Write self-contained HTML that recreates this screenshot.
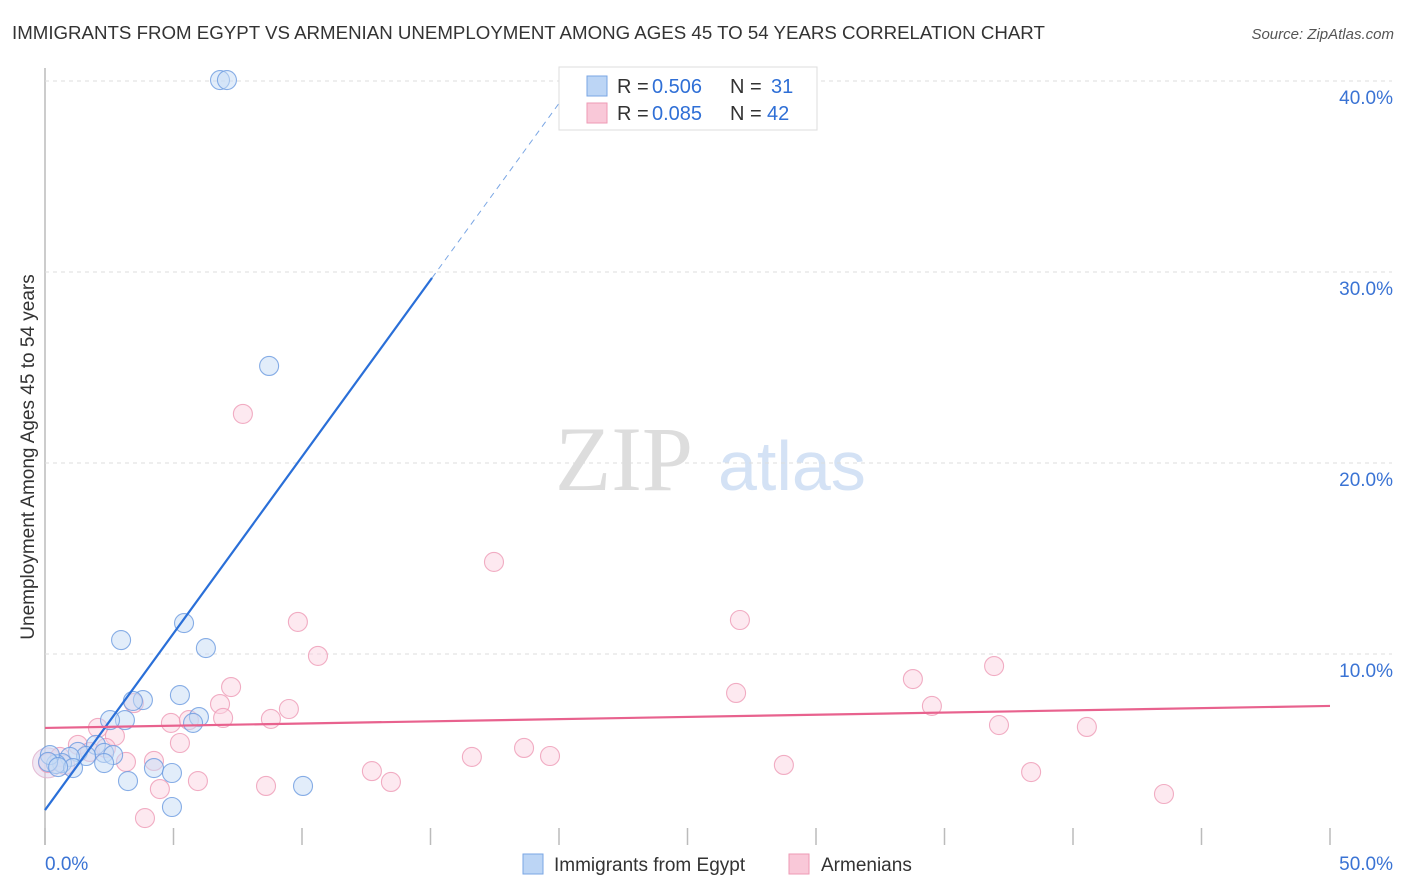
<!DOCTYPE html>
<html><head><meta charset="utf-8"><style>
body{margin:0;background:#fff;font-family:"Liberation Sans",sans-serif}
svg{display:block}
</style></head><body>
<svg id="c" width="1406" height="892">
<text x="12" y="39" font-size="18.7" fill="#333">IMMIGRANTS FROM EGYPT VS ARMENIAN UNEMPLOYMENT AMONG AGES 45 TO 54 YEARS CORRELATION CHART</text>
<text x="1394" y="39" font-size="15" fill="#555" font-style="italic" text-anchor="end">Source: ZipAtlas.com</text>
<text x="34" y="457" font-size="19" fill="#333" text-anchor="middle" transform="rotate(-90 34 457)">Unemployment Among Ages 45 to 54 years</text>
<g><text x="555" y="490" font-size="92" fill="#ddd" font-family="Liberation Serif,serif">ZIP</text><text x="718" y="490" font-size="70" fill="#d4e2f5">atlas</text></g>
<g id="grid"></g><g id="pts"></g><g id="lines"></g>
<g>
<rect x="559" y="67" width="258" height="63" fill="#fff" stroke="#ddd"/>
<rect x="587" y="76" width="20" height="20" fill="#bcd5f5" stroke="#7aa6e4"/>
<rect x="587" y="103" width="20" height="20" fill="#f9c8d8" stroke="#ee9ab5"/>
<text x="617" y="93" font-size="20" fill="#333">R =</text>
<text x="652" y="93" font-size="20" fill="#2f6fd6">0.506</text>
<text x="730" y="93" font-size="20" fill="#333">N =</text>
<text x="771" y="93" font-size="20" fill="#2f6fd6">31</text>
<text x="617" y="120" font-size="20" fill="#333">R =</text>
<text x="652" y="120" font-size="20" fill="#2f6fd6">0.085</text>
<text x="730" y="120" font-size="20" fill="#333">N =</text>
<text x="767" y="120" font-size="20" fill="#2f6fd6">42</text>
</g>
<g>
<rect x="523" y="854" width="20" height="20" fill="#bcd5f5" stroke="#7aa6e4"/>
<text x="554" y="871" font-size="19" fill="#333">Immigrants from Egypt</text>
<rect x="789" y="854" width="20" height="20" fill="#f9c8d8" stroke="#ee9ab5"/>
<text x="821" y="871" font-size="19" fill="#333">Armenians</text>
</g>
</svg>
<script>
const yTicks=[10,20,30,40];
const yTickLabels=["10.0%","20.0%","30.0%","40.0%"];
const xTickVals=[0,5,10,15,20,25,30,35,40,45,50];
const egyptX=[6.81,7.08,8.72,2.96,5.41,6.26,5.25,3.81,3.42,3.11,2.53,5.99,5.76,1.98,1.28,2.30,1.60,2.65,0.97,0.66,0.43,0.19,0.12,1.09,2.30,3.23,4.24,4.94,4.94,10.04,0.51];
const egyptY=[40.05,40.05,25.08,10.73,11.62,10.31,7.85,7.59,7.54,6.54,6.54,6.70,6.39,5.24,4.87,4.82,4.66,4.71,4.61,4.29,4.24,4.71,4.35,4.03,4.29,3.35,4.03,3.77,1.99,3.09,4.08];
const armX=[7.70,17.47,27.04,9.84,10.62,36.93,7.24,33.77,26.89,3.46,6.81,9.49,34.51,6.93,8.79,4.90,5.60,37.12,40.54,2.06,2.72,5.25,1.28,18.64,16.61,19.65,4.24,3.15,12.72,13.46,28.75,38.37,5.95,4.47,8.60,3.89,43.54,0.12,1.75,0.58,0.78,2.37];
const armY=[22.57,14.82,11.78,11.68,9.90,9.37,8.27,8.69,7.96,7.43,7.38,7.12,7.28,6.65,6.60,6.39,6.54,6.28,6.18,6.13,5.71,5.34,5.24,5.08,4.61,4.66,4.40,4.35,3.87,3.30,4.19,3.82,3.35,2.93,3.09,1.41,2.67,4.29,4.87,4.61,4.19,5.08];
const egyptLine=[1.83,1.85]; // intercept, slope
const armLine=[6.13,0.023];
const NS="http://www.w3.org/2000/svg";
const sx=v=>45+v*25.7, sy=v=>845-v*19.1;
function mk(p,t,a){const e=document.createElementNS(NS,t);for(const k in a)e.setAttribute(k,a[k]);p.appendChild(e);return e;}
const svg=document.getElementById('c'),grid=document.getElementById('grid'),pts=document.getElementById('pts'),lines=document.getElementById('lines');
mk(grid,'line',{x1:45,y1:68,x2:45,y2:845,stroke:'#bbb','stroke-width':1.5});
yTicks.forEach((v,i)=>{
 const l=mk(grid,'line',{x1:45,x2:1392,y1:sy(v),y2:sy(v),stroke:'#ddd','stroke-dasharray':'4 4'});
 
 
 const t=mk(grid,'text',{x:1393,y:sy(v)+23,'font-size':19,fill:'#3a73d4','text-anchor':'end'});
 t.textContent=yTickLabels[i];
 
 
});
xTickVals.forEach(v=>{
 const l=mk(grid,'line',{x1:sx(v),x2:sx(v),y1:828,y2:845,stroke:'#bbb','stroke-width':1.5});
 
 
});
[[0,"0.0%",'start',45],[50,"50.0%",'end',1393]].forEach(a=>{
 const t=mk(grid,'text',{x:a[3],y:870,'font-size':19,fill:'#3a73d4','text-anchor':a[2]});
 t.textContent=a[1];
 
 
});
function dot(x,y,r,f,s){const c=mk(pts,'circle',{cx:sx(x),cy:sy(y),r:r,fill:f,'fill-opacity':0.5,stroke:s,'stroke-opacity':0.8,'stroke-width':1.1});return c;}
const big=dot(0.1,4.3,15,'#e2d0ea','#e0b0cc');


armX.forEach((x,i)=>{const c=dot(x,armY[i],9.5,'#fbd3e1','#ee9ab5');
 
 });
egyptX.forEach((x,i)=>{const c=dot(x,egyptY[i],9.5,'#c6dbf6','#6a9ae0');
 
 });
const f=(L,x)=>L[0]+L[1]*x;
const xs=15.06, xe=(40.05-egyptLine[0])/egyptLine[1];
const b1=mk(lines,'line',{x1:sx(0),y1:sy(f(egyptLine,0)),x2:sx(xs),y2:sy(f(egyptLine,xs)),stroke:'#2a6fd8','stroke-width':2.2});


const b2=mk(lines,'line',{x1:sx(xs),y1:sy(f(egyptLine,xs)),x2:sx(xe),y2:sy(f(egyptLine,xe)),stroke:'#7aa6e4','stroke-width':1,'stroke-dasharray':'6 5'});


const p1=mk(lines,'line',{x1:sx(0),y1:sy(f(armLine,0)),x2:sx(50),y2:sy(f(armLine,50)),stroke:'#e8628e','stroke-width':2.2});


</script>
</body></html>
